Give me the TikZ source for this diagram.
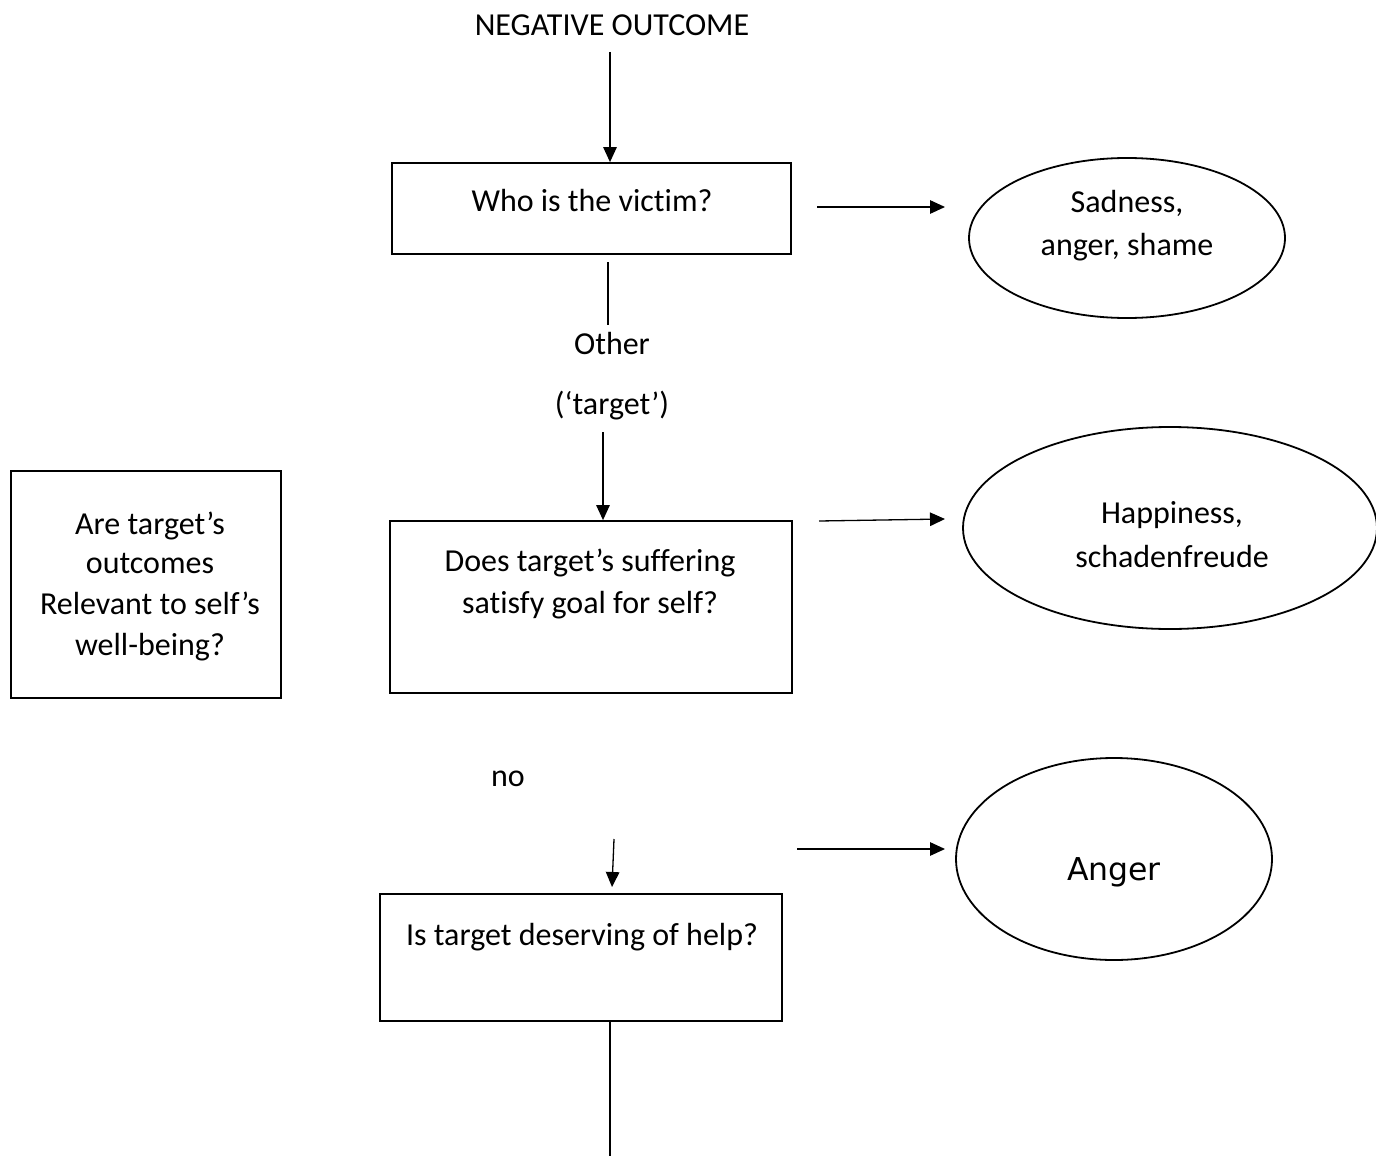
\documentclass[tikz,border=0pt]{standalone}
\usepackage{fontspec}
\setmainfont{Carlito}[Ligatures=NoCommon]
\newfontfamily\dejavu{DejaVu Sans}
\usetikzlibrary{arrows.meta,shapes.geometric}
\tikzset{
  txt/.style={inner sep=0pt, font=\fontsize{32}{39}\selectfont, align=center},
  boxnode/.style={draw, line width=1.8pt, inner sep=0pt},
  ellnode/.style={draw, ellipse, line width=1.8pt, inner sep=0pt},
  arr/.style={line width=1.3pt, -{Triangle[length=15pt,width=13.5pt]}},
  plain/.style={line width=1.3pt},
}
\begin{document}
\begin{tikzpicture}[x=1pt,y=-1pt]
\useasboundingbox (0,0) rectangle (1376,1156);
% boxes and ellipses
\node[boxnode, minimum width=399pt, minimum height=91pt] (box1) at (591.5,208.5) {};
\node[boxnode, minimum width=270pt, minimum height=227pt] (left) at (146,584.5) {};
\node[boxnode, minimum width=402pt, minimum height=172pt] (box2) at (591,607) {};
\node[boxnode, minimum width=402pt, minimum height=127pt] (box3) at (581,957.5) {};
\node[ellnode, minimum width=316pt, minimum height=160pt] (ell1) at (1127,238) {};
\node[ellnode, minimum width=414pt, minimum height=202pt] (ell2) at (1170,528) {};
\node[ellnode, minimum width=316pt, minimum height=202pt] (ell3) at (1114,859) {};
% texts
\node[txt, anchor=base] (neg) at (612,36) {NEGATIVE OUTCOME};
\node[txt, anchor=base] (t1) at (592,211) {Who is the victim?};
\node[txt, anchor=base] (e1a) at (1127,212) {Sadness,};
\node[txt, anchor=base] (e1b) at (1127,255) {anger, shame};
\node[txt, anchor=base] (other) at (612,354) {Other};
\node[txt, anchor=base] (tgt) at (612,414) {(‘target’)};
\node[txt, anchor=base] (l1) at (150,534) {Are target’s};
\node[txt, anchor=base] (l2) at (150,573.5) {outcomes};
\node[txt, anchor=base] (l3) at (150,614) {Relevant to self’s};
\node[txt, anchor=base] (l4) at (150,655.5) {well-being?};
\node[txt, anchor=base] (t2a) at (590,571) {Does target’s suffering};
\node[txt, anchor=base] (t2b) at (590,613) {satisfy goal for self?};
\node[txt, anchor=base] (e2a) at (1172,523) {Happiness,};
\node[txt, anchor=base] (e2b) at (1172,567) {schadenfreude};
\node[txt, anchor=base] (no) at (508,786) {no};
\node[txt, anchor=base] (t3) at (582,945) {Is target deserving of help?};
\node[txt, anchor=base, font=\dejavu\fontsize{31.5}{39}\selectfont] (e3) at (1114,880) {Anger};
% free connector ends
\coordinate (c1) at (610,52);
\coordinate (c2a) at (817,207);
\coordinate (c2b) at (945,207);
\coordinate (c3a) at (608,262);
\coordinate (c3b) at (608,325);
\coordinate (c4) at (603,432);
\coordinate (c5a) at (819,521);
\coordinate (c5b) at (945,519);
\coordinate (c6a) at (614,839);
\coordinate (c6b) at (612,887);
\coordinate (c7a) at (797,849);
\coordinate (c7b) at (945,849);
\coordinate (c8) at (610,1156);
% connectors
\draw[arr] (c1) -- (c1 |- box1.north);
\draw[arr] (c2a) -- (c2b);
\draw[plain] (c3a) -- (c3b);
\draw[arr] (c4) -- (c4 |- box2.north);
\draw[arr] (c5a) -- (c5b);
\draw[arr] (c6a) -- (c6b);
\draw[arr] (c7a) -- (c7b);
\draw[plain] (c8 |- box3.south) -- (c8);
\end{tikzpicture}
\end{document}
